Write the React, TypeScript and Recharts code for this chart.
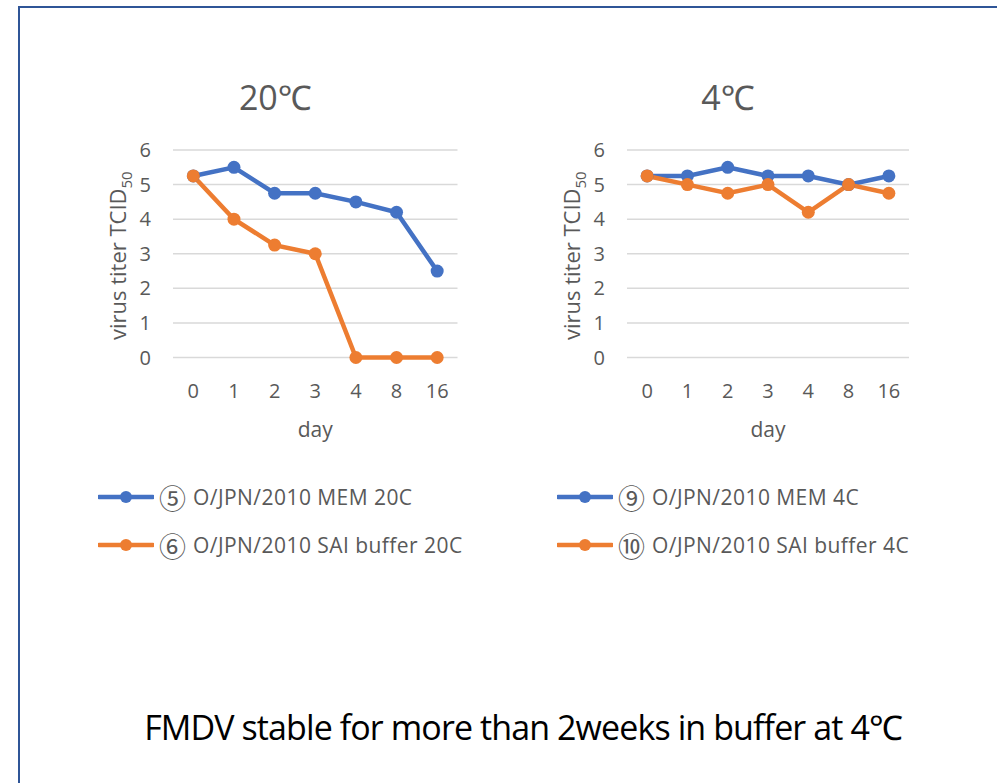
import { LineChart, Line, XAxis, YAxis, CartesianGrid } from 'recharts'

const days = ['0', '1', '2', '3', '4', '8', '16']
const mem20 = [5.25, 5.5, 4.75, 4.75, 4.5, 4.2, 2.5]
const sai20 = [5.25, 4, 3.25, 3, 0, 0, 0]
const mem4 = [5.25, 5.25, 5.5, 5.25, 5.25, 5, 5.25]
const sai4 = [5.25, 5, 4.75, 5, 4.2, 5, 4.75]
const yTicks = [0, 1, 2, 3, 4, 5, 6]

const BLUE = '#4472C4'
const ORANGE = '#ED7D31'
const FONT = '"Open Sans", "Noto Sans", sans-serif'
const CJK = '"Noto Sans CJK JP", "Noto Sans", sans-serif'
const GREY = '#595959'

interface PanelProps {
  left: number
  right: number
  title: string
  mem: number[]
  sai: number[]
}

function Panel({ left, right, title, mem, sai }: PanelProps) {
  const data = days.map((d, i) => ({ day: d, mem: mem[i], sai: sai[i] }))
  const W = 390
  const H = 400
  const yw = 44
  const plotW = W - 84 - right
  const pad = plotW / 14
  return (
    <>
      <div style={{ position: 'absolute', left: left + 84 - 40, width: plotW, top: 74, textAlign: 'center', fontSize: 34, color: GREY, fontFamily: FONT }}>
        {title}
      </div>
      <div style={{ position: 'absolute', left: left + 84, width: plotW, top: 415, textAlign: 'center', fontSize: 21, color: GREY, fontFamily: FONT }}>
        day
      </div>
      <div style={{
        position: 'absolute', left: left + 30 - 100, top: 239, width: 200, textAlign: 'center',
        transform: 'rotate(-90deg)', fontSize: 22, color: GREY, fontFamily: FONT, whiteSpace: 'nowrap',
      }}>
        virus titer TCID<sub style={{ fontSize: 15 }}>50</sub>
      </div>
      <div style={{ position: 'absolute', left, top: 60 }}>
        <LineChart width={W} height={H} data={data} margin={{ top: 90, right, bottom: 62.5, left: 84 - yw }}>
          <CartesianGrid vertical={false} stroke="#D9D9D9" strokeWidth={1.5} />
          <XAxis dataKey="day" axisLine={false} tickLine={false} tickSize={0} tickMargin={26} height={40}
            padding={{ left: pad, right: pad }} interval={0}
            tick={{ fontSize: 20, fill: GREY, fontFamily: FONT }} />
          <YAxis domain={[0, 6]} ticks={yTicks} axisLine={false} tickLine={false} tickSize={0} tickMargin={22} width={yw}
            tick={{ fontSize: 20, fill: GREY, fontFamily: FONT }} />
          <Line dataKey="mem" stroke={BLUE} strokeWidth={4.5} isAnimationActive={false}
            dot={{ r: 6.5, fill: BLUE, stroke: BLUE, strokeWidth: 0 }} />
          <Line dataKey="sai" stroke={ORANGE} strokeWidth={4.5} isAnimationActive={false}
            dot={{ r: 6.5, fill: ORANGE, stroke: ORANGE, strokeWidth: 0 }} />
        </LineChart>
      </div>
    </>
  )
}

function LegendItem({ x, y, color, mark, label }: { x: number; y: number; color: string; mark: string; label: string }) {
  return (
    <div style={{ position: 'absolute', left: x, top: y - 16, height: 32, display: 'flex', alignItems: 'center', fontFamily: FONT, fontSize: 21, color: GREY, whiteSpace: 'nowrap', lineHeight: 1 }}>
      <svg width={56} height={14} style={{ marginRight: 5 }}>
        <line x1={1} y1={7} x2={55} y2={7} stroke={color} strokeWidth={4.5} strokeLinecap="round" />
        <circle cx={28} cy={7} r={6} fill={color} />
      </svg>
      <span style={{ fontFamily: CJK, fontSize: 27, marginRight: 7 }}>{mark}</span>
      <span style={{ letterSpacing: 0.45 }}>{label}</span>
    </div>
  )
}

export default function App() {
  return (
    <div style={{ position: 'fixed', left: 0, top: 0, width: 997, height: 783, background: '#fff', overflow: 'hidden' }}>
      <div style={{ position: 'absolute', left: 18, top: 6, width: 1100, height: 900, border: '2.5px solid #2F5597' }} />
      <Panel left={89} right={21.5} title="20℃" mem={mem20} sai={sai20} />
      <Panel left={543} right={24} title="4℃" mem={mem4} sai={sai4} />
      <LegendItem x={98} y={497} color={BLUE} mark="⑤" label="O/JPN/2010 MEM 20C" />
      <LegendItem x={98} y={545} color={ORANGE} mark="⑥" label="O/JPN/2010 SAI buffer 20C" />
      <LegendItem x={557} y={497} color={BLUE} mark="⑨" label="O/JPN/2010 MEM 4C" />
      <LegendItem x={557} y={545} color={ORANGE} mark="⑩" label="O/JPN/2010 SAI buffer 4C" />
      <div style={{ position: 'absolute', left: 0, width: 1046, top: 704, textAlign: 'center', fontFamily: FONT, fontSize: 34, color: '#000', whiteSpace: 'nowrap', letterSpacing: -0.9 }}>
        FMDV stable for more than 2weeks in buffer at 4℃
      </div>
    </div>
  )
}
